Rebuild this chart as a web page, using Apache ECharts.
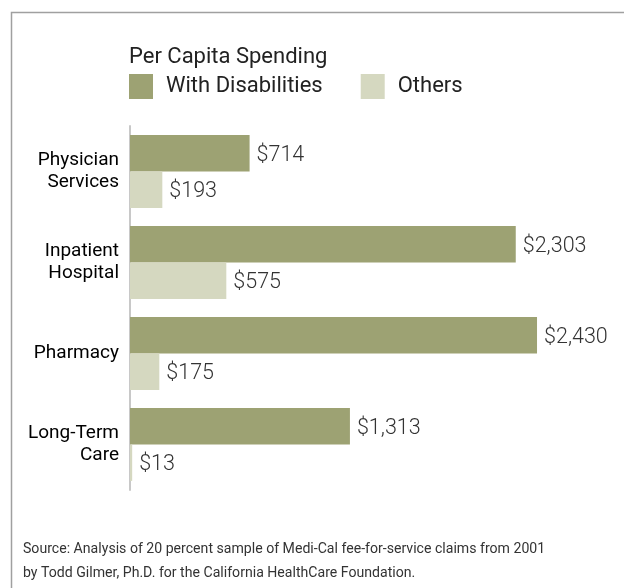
<!DOCTYPE html>
<html>
<head>
<meta charset="utf-8">
<script src="https://cdn.jsdelivr.net/npm/echarts@6/dist/echarts.min.js"></script>
<style>
html,body{margin:0;padding:0;background:#fff;}
#c{width:624px;height:588px;}
</style>
</head>
<body>
<div id="c"></div>
<script>
const categories = ['Physician\nServices', 'Inpatient\nHospital', 'Pharmacy', 'Long-Term\nCare'];
const withDisabilities = [714, 2303, 2430, 1313];
const others = [193, 575, 175, 13];
const seriesNames = ['With Disabilities', 'Others'];
const legendTitle = 'Per Capita Spending';
const sourceLines = [
  'Source: Analysis of 20 percent sample of Medi-Cal fee-for-service claims from 2001',
  'by Todd Gilmer, Ph.D. for the California HealthCare Foundation.'
];

const chart = echarts.init(document.getElementById('c'));
const fmt = p => '$' + p.value.toLocaleString('en-US');
const valueLabel = {
  show: true, position: 'right', distance: 7, offset: [0, 2],
  formatter: fmt, color: '#333', fontSize: 21.5,
  fontFamily: 'Roboto', fontWeight: 300
};
chart.setOption({
  animation: false,
  backgroundColor: '#fff',
  title: {
    text: legendTitle, left: 129, top: 46, padding: 0,
    textStyle: { fontFamily: 'Roboto', fontWeight: 'normal', fontSize: 22, color: '#222' }
  },
  legend: {
    left: 129, top: 74, itemWidth: 24, itemHeight: 25, itemGap: 38, padding: 0,
    icon: 'rect',
    data: seriesNames,
    textStyle: { fontFamily: 'Roboto', fontSize: 22, color: '#222', padding: [3, 0, 0, 8] }
  },
  grid: { left: 130, top: 126, height: 364, width: 469, containLabel: false },
  xAxis: {
    type: 'value', min: 0, max: 2800, show: false
  },
  yAxis: {
    type: 'category', data: categories, inverse: true,
    axisLine: { show: true, lineStyle: { color: '#c8c8c8', width: 2 } },
    axisTick: { show: false },
    axisLabel: {
      margin: 11, align: 'right', lineHeight: 22, padding: [2, 0, 0, 0],
      fontFamily: 'Roboto', fontWeight: 'normal', fontSize: 19, color: '#000'
    }
  },
  series: [
    {
      name: seriesNames[0], type: 'bar', data: withDisabilities,
      barGap: '0%', barCategoryGap: '20%',
      itemStyle: { color: '#9da273' }, label: valueLabel
    },
    {
      name: seriesNames[1], type: 'bar', data: others,
      itemStyle: { color: '#d5d8c0' }, label: valueLabel
    }
  ],
  graphic: [
    { type: 'polyline', shape: { points: [[11.5, 600], [11.5, 12.5], [630, 12.5]] },
      style: { stroke: '#a0a0a0', lineWidth: 1.5, fill: null }, silent: true },
    { type: 'text', x: 23, y: 537, scaleX: 0.91,
      style: { text: sourceLines.join('\n'), fontFamily: 'Roboto', fontSize: 15.5, lineHeight: 24, fill: '#333' } }
  ]
});
</script>
</body>
</html>
